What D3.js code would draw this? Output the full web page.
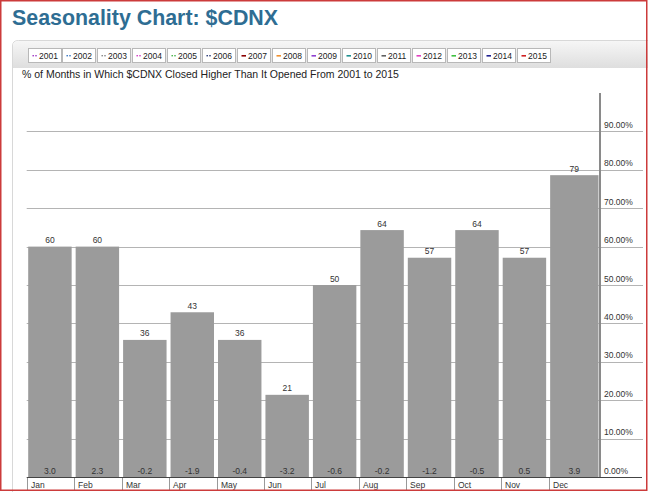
<!DOCTYPE html>
<html><head><meta charset="utf-8">
<script src="https://cdn.jsdelivr.net/npm/d3@7"></script>
<style>
html,body{margin:0;padding:0;background:#fff;}
svg{display:block;font-family:"Liberation Sans",Arial,sans-serif;}
</style></head>
<body><svg id="c" width="648" height="492"></svg>
<script>
// ---- data ----
const months = ["Jan","Feb","Mar","Apr","May","Jun","Jul","Aug","Sep","Oct","Nov","Dec"];
const pctHigher = [60, 60, 35.7, 42.9, 35.7, 21.4, 50, 64.3, 57.1, 64.3, 57.1, 78.6];
const avgChange = ["3.0","2.3","-0.2","-1.9","-0.4","-3.2","-0.6","-0.2","-1.2","-0.5","0.5","3.9"];
const yTicks = [0,10,20,30,40,50,60,70,80,90];
const legendYears = ["2001","2002","2003","2004","2005","2006","2007","2008","2009","2010","2011","2012","2013","2014","2015"];
const legendColors = ["#9b30c0","#3070c0","#808080","#d030c0","#40b040","#203070","#8b0000","#f09030","#9040d0","#209090","#606060","#e040c0","#40c040","#202090","#d02020"];
const legendDotted = [true,true,true,true,true,true,false,false,false,false,false,false,false,false,false];

const svg = d3.select("#c");
const defs = svg.append("defs");
const grad = defs.append("linearGradient").attr("id","pg").attr("x1",0).attr("x2",0).attr("y1",0).attr("y2",1);
grad.append("stop").attr("offset","0%").attr("stop-color","#f6f6f6");
grad.append("stop").attr("offset","100%").attr("stop-color","#dedede");

// title
svg.append("text").attr("x",12).attr("y",25)
  .attr("font-size",22).attr("font-weight","bold").attr("fill","#2e6d93")
  .attr("textLength",266).attr("lengthAdjust","spacingAndGlyphs")
  .text("Seasonality Chart: $CDNX");

// panel
svg.append("path")
  .attr("d","M12.5,492 L12.5,46 Q12.5,40.5 18.5,40.5 L660,40.5")
  .attr("fill","none").attr("stroke","#d8d8d8");
svg.append("path")
  .attr("d","M13,68 L13,46 Q13,41 19,41 L660,41 L660,68 Z")
  .attr("fill","url(#pg)");

// legend
const lx = d3.scaleBand().domain(legendYears).range([27.5, 27.5 + 15*34.8]).paddingInner(0.06).paddingOuter(0);
const lg = svg.append("g").selectAll("g").data(legendYears).join("g")
  .attr("transform", d => `translate(${Math.round(lx(d))+0.5},48.5)`);
lg.append("rect").attr("width", Math.round(lx.bandwidth())).attr("height",14)
  .attr("fill","#fff").attr("stroke","#b8b8b8");
lg.each(function(d,i){
  const g = d3.select(this);
  if (legendDotted[i]) {
    g.append("rect").attr("x",4).attr("y",6.5).attr("width",1.4).attr("height",1.4).attr("fill",legendColors[i]);
    g.append("rect").attr("x",6.8).attr("y",6.5).attr("width",1.4).attr("height",1.4).attr("fill",legendColors[i]);
  } else {
    g.append("rect").attr("x",4).attr("y",6.5).attr("width",4.5).attr("height",1.6).attr("fill",legendColors[i]);
  }
});
lg.append("text").attr("x",10.5).attr("y",10.5).attr("font-size",8.5).attr("fill","#222").text(d=>d);

// subtitle
svg.append("text").attr("x",22).attr("y",78).attr("font-size",10.5).attr("fill","#222")
  .text("% of Months in Which $CDNX Closed Higher Than It Opened From 2001 to 2015");

// scales
const plotLeft = 26.7, plotRight = 600;
const x = d3.scaleBand().domain(months).range([plotLeft, plotLeft + 12*47.45]).paddingInner(0).paddingOuter(0);
const y = d3.scaleLinear().domain([0,100]).range([477, 93]);

// gridlines
svg.append("g").selectAll("line").data(yTicks.filter(t=>t>0)).join("line")
  .attr("x1", plotLeft).attr("x2", 643)
  .attr("y1", d=>Math.round(y(d))+0.5).attr("y2", d=>Math.round(y(d))+0.5)
  .attr("stroke","#b4b4b4");

// bars
const data = months.map((m,i)=>({m, v:pctHigher[i], c:avgChange[i], i}));
svg.append("g").selectAll("rect").data(data).join("rect")
  .attr("x", d => x(d.m)+1.5)
  .attr("width", d => d.i === months.length-1 ? (plotRight - 1.5) - (x(d.m)+1.5) : x.bandwidth()-4)
  .attr("y", d => y(d.v))
  .attr("height", d => y(0) - y(d.v))
  .attr("fill","#9b9b9b");

// top labels
svg.append("g").selectAll("text").data(data).join("text")
  .attr("x", d => d.i === months.length-1 ? (x(d.m)+plotRight)/2 : x(d.m)+1.5+(x.bandwidth()-4)/2)
  .attr("y", d => y(d.v)-3.5)
  .attr("text-anchor","middle").attr("font-size",8.5).attr("fill","#333")
  .text(d => d3.format(".0f")(d.v));

// bottom labels
svg.append("g").selectAll("text").data(data).join("text")
  .attr("x", d => d.i === months.length-1 ? (x(d.m)+plotRight)/2 : x(d.m)+1.5+(x.bandwidth()-4)/2)
  .attr("y", 474)
  .attr("text-anchor","middle").attr("font-size",8.5).attr("fill","#333")
  .text(d => d.c);

// right axis line
svg.append("line").attr("x1",plotRight).attr("x2",plotRight).attr("y1",y(100)).attr("y2",y(0))
  .attr("stroke","#8a8a8a").attr("stroke-width",2);

// right axis labels
svg.append("g").selectAll("text").data(yTicks).join("text")
  .attr("x",604).attr("y", d => y(d)-3.5)
  .attr("font-size",8.5).attr("fill","#333")
  .text(d => d3.format(".2f")(d)+"%");

// bottom axis line
svg.append("line").attr("x1",plotLeft).attr("x2",642).attr("y1",477.5).attr("y2",477.5)
  .attr("stroke","#444");

// x ticks
const xg = svg.append("g").selectAll("g").data(months).join("g")
  .attr("transform", d => `translate(${Math.round(x(d))+0.5},0)`);
xg.append("line").attr("y1",478).attr("y2",491).attr("stroke","#999");
xg.append("text").attr("x",3.5).attr("y",487.5).attr("font-size",8.5).attr("fill","#333").text(d=>d);

// outer red border
svg.append("rect").attr("x",0.75).attr("y",0.75).attr("width",646).attr("height",489.5)
  .attr("fill","none").attr("stroke","#cc3b3b").attr("stroke-width",1.5);
</script>
</body></html>
